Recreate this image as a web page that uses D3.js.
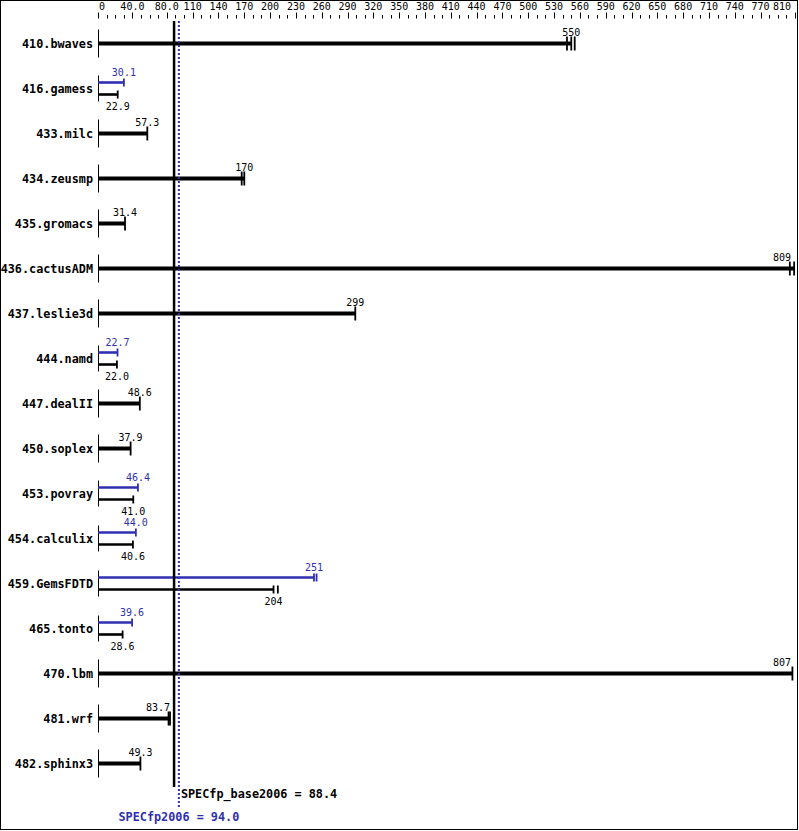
<!DOCTYPE html>
<html>
<head>
<meta charset="utf-8">
<script src="https://cdn.jsdelivr.net/npm/d3@7"></script>
<style>
  html, body { margin: 0; padding: 0; background: #fff; }
  svg { display: block; }
</style>
</head>
<body>
<svg id="chart" width="799" height="831"></svg>
<script>
// ---- data ----
const benchmarks = ["410.bwaves","416.gamess","433.milc","434.zeusmp","435.gromacs","436.cactusADM",
  "437.leslie3d","444.namd","447.dealII","450.soplex","453.povray","454.calculix","459.GemsFDTD",
  "465.tonto","470.lbm","481.wrf","482.sphinx3"];
const baseValues = [550, 22.9, 57.3, 170, 31.4, 809, 299, 22.0, 48.6, 37.9, 41.0, 40.6, 204, 28.6, 807, 83.7, 49.3];
// null = peak equals base (single bar)
const peakValues = [null, 30.1, null, null, null, null, null, 22.7, null, null, 46.4, 44.0, 251, 39.6, null, null, null];
// individual run results (tick marks at bar ends)
const baseRuns = [[545, 550, 554], [22.9], [57.3], [167, 170], [31.4], [804, 809], [299], [22.0], [48.6],
  [37.9], [41.0], [40.6], [204, 209], [28.6], [807], [82, 83.7], [49.3]];
const peakRuns = [null, [30.1], null, null, null, null, null, [22.7], null, null, [46.4], [44.0],
  [251, 254], [39.6], null, null, null];
const tickValues = [0, 40, 80, 110, 140, 170, 200, 230, 260, 290, 320, 350, 380, 410, 440, 470, 500,
  530, 560, 590, 620, 650, 680, 710, 740, 770, 810];
const tickLabels = ["0", "40.0", "80.0", "110", "140", "170", "200", "230", "260", "290", "320", "350",
  "380", "410", "440", "470", "500", "530", "560", "590", "620", "650", "680", "710", "740", "770", "810"];
const baseScore = 88.4;
const peakScore = 94.0;
const baseScoreLabel = "SPECfp_base2006 = 88.4";
const peakScoreLabel = "SPECfp2006 = 94.0";

// ---- drawing ----
const W = 799, H = 831;
const BLUE = "#2f2fb0";
const MONO = "'DejaVu Sans Mono', 'Liberation Mono', monospace";
const CHARW = 6.02; // width per char at 10px
const svg = d3.select("#chart");
const x = d3.scaleLinear().domain([0, 810]).range([98, 795]);
const rowY = i => 43.5 + 45 * i;
const fmt = d3.format(".3r");

svg.append("rect").attr("x", 0.5).attr("y", 0.5).attr("width", W - 2).attr("height", H - 2)
  .attr("fill", "#fff").attr("stroke", "#000").attr("stroke-width", 1);

// top axis
const minorTicks = d3.range(0, 811, 10).filter(v => tickValues.indexOf(v) < 0);
svg.append("g").selectAll("line").data(minorTicks).join("line")
  .attr("x1", d => Math.round(x(d)) + 0.5).attr("x2", d => Math.round(x(d)) + 0.5)
  .attr("y1", 15).attr("y2", 18.5).attr("stroke", "#000").attr("stroke-width", 1);
svg.append("g").selectAll("line").data(tickValues).join("line")
  .attr("x1", d => Math.round(x(d)) + 0.5).attr("x2", d => Math.round(x(d)) + 0.5)
  .attr("y1", 12.5).attr("y2", 18.5).attr("stroke", "#000").attr("stroke-width", 1);

function placeLabel(px, text, minX, maxX) {
  const w = text.length * CHARW;
  let cx = px;
  if (cx - w / 2 < minX) cx = minX + w / 2;
  if (cx + w / 2 > maxX) cx = maxX - w / 2;
  return cx;
}
svg.append("g").selectAll("text").data(tickValues).join("text")
  .attr("x", (d, i) => placeLabel(x(d), tickLabels[i], 99, 791))
  .attr("y", 10).attr("text-anchor", "middle")
  .attr("font-family", MONO).attr("font-size", 10).attr("fill", "#000")
  .text((d, i) => tickLabels[i]);

// value label positioning: avoid the reference lines and the right border
const refL = x(baseScore) - 2, refR = x(peakScore) + 2;
function valueLabel(g, v, y, color) {
  const t = fmt(v);
  const w = t.length * CHARW;
  let px = x(v), anchor = "middle";
  if (px < refL && px + w / 2 > refL) { anchor = "end"; }
  else if (px + w / 2 > 791) { px = 791; anchor = "end"; }
  g.append("text").attr("x", px).attr("y", y).attr("text-anchor", anchor)
    .attr("font-family", MONO).attr("font-size", 10).attr("fill", color).text(t);
}

function barWithTicks(g, v, runs, y, thick, tickHalf, color) {
  g.append("line").attr("x1", x(0)).attr("x2", x(v)).attr("y1", y).attr("y2", y)
    .attr("stroke", color).attr("stroke-width", thick);
  g.selectAll(null).data(runs).join("line")
    .attr("x1", d => x(d)).attr("x2", d => x(d))
    .attr("y1", y - tickHalf).attr("y2", y + tickHalf)
    .attr("stroke", color).attr("stroke-width", 1.8);
}

const rows = svg.append("g");
benchmarks.forEach((name, i) => {
  const cy = rowY(i);
  const g = rows.append("g");
  g.append("text").attr("x", 93).attr("y", cy + 4).attr("text-anchor", "end")
    .attr("font-family", MONO).attr("font-weight", "bold").attr("font-size", 11.8)
    .attr("fill", "#000").text(name);
  const pv = peakValues[i];
  if (pv === null) {
    g.append("line").attr("x1", x(0) + 0.5).attr("x2", x(0) + 0.5)
      .attr("y1", cy - 14).attr("y2", cy + 14).attr("stroke", "#000").attr("stroke-width", 1);
    barWithTicks(g, baseValues[i], baseRuns[i], cy, 4, 7, "#000");
    valueLabel(g, baseValues[i], cy - 8, "#000");
  } else {
    g.append("line").attr("x1", x(0) + 0.5).attr("x2", x(0) + 0.5)
      .attr("y1", cy - 13).attr("y2", cy + 13).attr("stroke", "#000").attr("stroke-width", 1);
    barWithTicks(g, pv, peakRuns[i], cy - 6, 2.6, 4, BLUE);
    barWithTicks(g, baseValues[i], baseRuns[i], cy + 6, 2.6, 4, "#000");
    valueLabel(g, pv, cy - 13, BLUE);
    valueLabel(g, baseValues[i], cy + 21, "#000");
  }
});

// reference lines
svg.append("line").attr("x1", x(baseScore)).attr("x2", x(baseScore))
  .attr("y1", 21).attr("y2", 787).attr("stroke", "#000").attr("stroke-width", 2.5);
svg.append("line").attr("x1", x(peakScore)).attr("x2", x(peakScore))
  .attr("y1", 21).attr("y2", 808).attr("stroke", BLUE).attr("stroke-width", 2)
  .attr("stroke-dasharray", "2,2");

svg.append("text").attr("x", x(peakScore) + 2).attr("y", 798)
  .attr("font-family", MONO).attr("font-weight", "bold").attr("font-size", 11.8)
  .attr("fill", "#000").text(baseScoreLabel);
svg.append("text").attr("x", x(peakScore)).attr("y", 821).attr("text-anchor", "middle")
  .attr("font-family", MONO).attr("font-weight", "bold").attr("font-size", 11.8)
  .attr("fill", BLUE).text(peakScoreLabel);
</script>
</body>
</html>
